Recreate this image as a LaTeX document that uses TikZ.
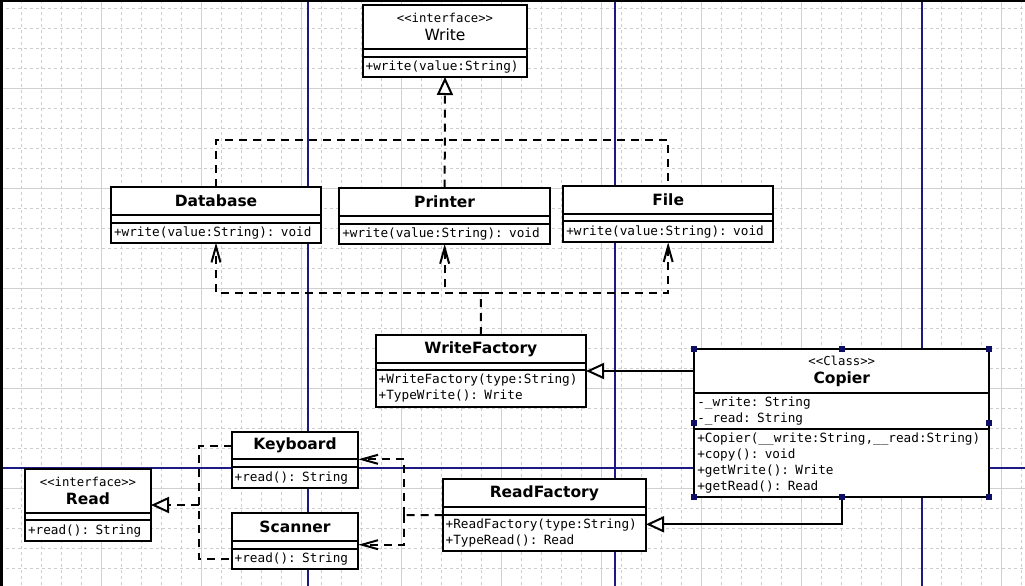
\documentclass[tikz,border=0pt]{standalone}
\usepackage{fontspec}
\usepackage{tikz}
\usetikzlibrary{arrows.meta}
\usetikzlibrary{positioning}
\usetikzlibrary{calc}
\newfontfamily\clsfont{DejaVu Sans}
\newfontfamily\memfont{DejaVu Sans Mono}
\newcommand \stereo [1] {{\memfont\mdseries\fontsize{12.3}{14}\selectfont\textless\textless #1\textgreater\textgreater}}
\definecolor{gridminor}{RGB}{205,205,205}
\definecolor{gridmajor}{RGB}{208,208,208}
\definecolor{pageline}{RGB}{26,26,130}
\definecolor{handle}{RGB}{14,14,100}
\tikzstyle{cname}=[rectangle,draw=black,fill=white,line width=2pt,outer sep=0pt,inner sep=0pt,anchor=north west,align=center,font=\clsfont\fontsize{15.5}{18}\selectfont\bfseries]
\tikzstyle{cpart}=[rectangle,draw=black,fill=white,line width=2pt,outer sep=0pt,inner xsep=3pt,inner ysep=0pt,align=left,font=\memfont\fontsize{12.7}{16}\selectfont]
\tikzstyle{dline}=[line width=2pt,dash pattern=on 8pt off 6pt]
\tikzstyle{real}=[dline,-{Triangle[open,fill=white,length=18pt,width=16pt]}]
\tikzstyle{dep}=[dline,-{Straight Barb[length=16pt,width=9pt]}]
\tikzstyle{inherit}=[line width=2pt,-{Triangle[open,fill=white,length=18pt,width=16pt]}]

\begin{document}
\begin{tikzpicture}[x=1pt,y=-1pt]
        \useasboundingbox (0,0) rectangle (1025,586);
        \fill[white] (0,0) rectangle (1025,586);
        \foreach \gx in {1.7,21.7,...,1021.7}
          \draw[gridminor,line width=0.9pt,dash pattern=on 3pt off 3pt] (\gx,0) -- (\gx,586);
        \foreach \gy in {8.3,28.3,...,588.3}
          \draw[gridminor,line width=0.9pt,dash pattern=on 3pt off 3pt] (0,\gy) -- (1025,\gy);
        \foreach \gx in {101.7,201.7,...,1001.7}
          \draw[gridmajor,line width=0.9pt] (\gx,0) -- (\gx,586);
        \foreach \gy in {88.3,188.3,...,588.3}
          \draw[gridmajor,line width=0.9pt] (0,\gy) -- (1025,\gy);
        \foreach \px in {308,615,922}
          \draw[pageline,line width=1.3pt] (\px,0) -- (\px,586);
        \draw[pageline,line width=1.3pt] (0,468) -- (1025,468);
        \draw[line width=2.6pt] (1.3,586) -- (1.3,1.2) -- (1025,1.2);

        \node[cname,font=\clsfont\fontsize{15.5}{18}\selectfont,minimum width=164.6pt,minimum height=44pt] at (362.7,4.7) (write) {\stereo{interface}\\Write};
        \node[cpart,below=0pt of write,text width=158.6pt,minimum height=8pt] (write-a) {};
        \node[cpart,below=0pt of write-a,text width=158.6pt,minimum height=20.3pt] (write-m) {+write(value:String)};

        \node[cname,minimum width=210pt,minimum height=28.3pt] at (111,186.7) (db) {Database};
        \node[cpart,below=0pt of db,text width=204pt,minimum height=7.7pt] (db-a) {};
        \node[cpart,below=0pt of db-a,text width=204pt,minimum height=20pt] (db-m) {+write(value:String): void};

        \node[cname,minimum width=210.7pt,minimum height=28.3pt] at (339.3,187.7) (printer) {Printer};
        \node[cpart,below=0pt of printer,text width=204.7pt,minimum height=7.7pt] (printer-a) {};
        \node[cpart,below=0pt of printer-a,text width=204.7pt,minimum height=20.3pt] (printer-m) {+write(value:String): void};

        \node[cname,minimum width=209.7pt,minimum height=28pt] at (563.3,185.7) (file) {File};
        \node[cpart,below=0pt of file,text width=203.7pt,minimum height=7.6pt] (file-a) {};
        \node[cpart,below=0pt of file-a,text width=203.7pt,minimum height=21pt] (file-m) {+write(value:String): void};

        \node[cname,minimum width=210.3pt,minimum height=27.7pt] at (375.7,335) (wf) {WriteFactory};
        \node[cpart,below=0pt of wf,text width=204.3pt,minimum height=7.3pt] (wf-a) {};
        \node[cpart,below=0pt of wf-a,text width=204.3pt,minimum height=36.7pt] (wf-m) {+WriteFactory(type:String)\\+TypeWrite(): Write};

        \node[cname,minimum width=295pt,minimum height=43.4pt] at (694.3,349.3) (copier) {\stereo{Class}\\Copier};
        \node[cpart,below=0pt of copier,text width=289pt,minimum height=36pt] (copier-a) {-\_write: String\\-\_read: String};
        \node[cpart,below=0pt of copier-a,text width=289pt,minimum height=68pt] (copier-m) {+Copier(\_\_write:String,\_\_read:String)\\+copy(): void\\+getWrite(): Write\\+getRead(): Read};

        \node[cname,minimum width=203.3pt,minimum height=27.7pt] at (442.7,479) (rf) {ReadFactory};
        \node[cpart,below=0pt of rf,text width=197.3pt,minimum height=8.3pt] (rf-a) {};
        \node[cpart,below=0pt of rf-a,text width=197.3pt,minimum height=36pt] (rf-m) {+ReadFactory(type:String)\\+TypeRead(): Read};

        \node[cname,minimum width=126.6pt,minimum height=27.3pt] at (231.7,432) (kb) {Keyboard};
        \node[cpart,below=0pt of kb,text width=120.6pt,minimum height=8pt] (kb-a) {};
        \node[cpart,below=0pt of kb-a,text width=120.6pt,minimum height=21pt] (kb-m) {+read(): String};

        \node[cname,minimum width=126.6pt,minimum height=27.4pt] at (231.7,513.3) (sc) {Scanner};
        \node[cpart,below=0pt of sc,text width=120.6pt,minimum height=8pt] (sc-a) {};
        \node[cpart,below=0pt of sc-a,text width=120.6pt,minimum height=20.3pt] (sc-m) {+read(): String};

        \node[cname,minimum width=126pt,minimum height=44pt] at (25,469) (read) {\stereo{interface}\\Read};
        \node[cpart,below=0pt of read,text width=120pt,minimum height=7.3pt] (read-a) {};
        \node[cpart,below=0pt of read-a,text width=120pt,minimum height=20.7pt] (read-m) {+read(): String};

        \coordinate (wbar) at (445,140);
        \coordinate (wfbar) at (481,293);
        \coordinate (rbar) at (199,505);
        \coordinate (rfbar) at (404,515);

        \draw[real] (printer.north) -- (write-m.south);
        \draw[dline] (db.north) |- (wbar) -| (file.north);
        \draw[dline] (wf.north) -- (wfbar);
        \draw[dep] (wfbar) -| (db-m.south);
        \draw[dep] (wfbar) -| (printer-m.south);
        \draw[dep] (wfbar) -| (file-m.south);
        \draw[inherit] (copier.west) -- (copier.west -| wf-m.east);
        \draw[inherit] (copier-m.south) |- ([yshift=8.7pt]rf-m.east);
        \draw[dline] (kb.west) -| (rbar) |- (sc-m.west);
        \draw[real] (rbar) -- (rbar -| read.east);
        \draw[dline] (rf-a.south west) -- (rfbar);
        \draw[dep] (rfbar) |- (kb.south east);
        \draw[dep] (rfbar) |- (sc-a.east);

        \foreach \h in {copier.north west,copier.north,copier.north east,copier-m.south west,copier-m.south,copier-m.south east}
          \fill[handle] (\h) +(-3,-3) rectangle +(3,3);
        \fill[handle] ($(copier.north west)!.5!(copier-m.south west)$) +(-3,-3) rectangle +(3,3);
        \fill[handle] ($(copier.north east)!.5!(copier-m.south east)$) +(-3,-3) rectangle +(3,3);
      \end{tikzpicture}
\end{document}
